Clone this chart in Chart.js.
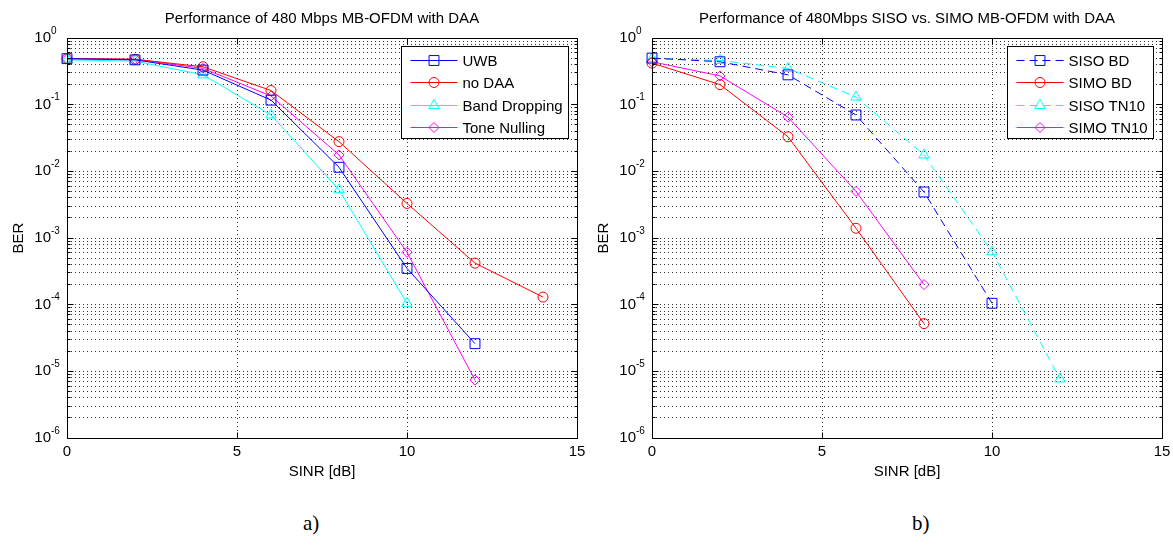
<!DOCTYPE html>
<html>
<head>
<meta charset="utf-8">
<script src="https://cdn.jsdelivr.net/npm/chart.js@4.4.1/dist/chart.umd.min.js"></script>
<style>
  body { margin: 0; background: #fff; width: 1173px; height: 547px; position: relative; overflow: hidden; }
  canvas { position: absolute; top: 0; }
  #chartA { left: 0; }
  #chartB { left: 590px; }
  .cap { position: absolute; top: 511px; font: 21px "Liberation Serif", "Times New Roman", serif; color: #000; }
</style>
</head>
<body>
<canvas id="chartA" width="590" height="500"></canvas>
<canvas id="chartB" width="583" height="500"></canvas>
<div class="cap" style="left:303px">a)</div>
<div class="cap" style="left:912px">b)</div>
<script>
// SINR points (dB) shared by all curves
const sinr = [0, 2, 4, 6, 8, 10, 12, 14];

// a) 480 Mbps MB-OFDM with DAA
const berUwb = [0.49, 0.47, 0.33, 0.117, 0.0115, 3.5e-4, 2.6e-5];
const berNoDaa = [0.49, 0.48, 0.37, 0.163, 0.0279, 0.0033, 4.2e-4, 1.3e-4];
const berBandDrop = [0.47, 0.45, 0.28, 0.07, 0.0053, 1.05e-4];
const berToneNull = [0.49, 0.48, 0.35, 0.135, 0.0176, 6.1e-4, 7.4e-6];

// b) SISO vs. SIMO
const berSisoBd = [0.5, 0.44, 0.28, 0.07, 0.0049, 1.05e-4];
const berSimoBd = [0.42, 0.2, 0.033, 0.0014, 5.2e-5];
const berSisoTn = [0.49, 0.46, 0.35, 0.13, 0.0176, 6.2e-4, 7.7e-6];
const berSimoTn = [0.44, 0.27, 0.065, 0.005, 2.0e-4];

const xTickValues = [0, 5, 10, 15];
const decades = [0, -1, -2, -3, -4, -5, -6];

const FONT = '"Liberation Sans", Arial, sans-serif';
const px = v => Math.floor(v) + 0.5;

function series(label, ys, color, style, radius, dashed) {
  return {
    label,
    data: ys.map((v, i) => ({ x: sinr[i], y: v })),
    borderColor: color,
    borderWidth: 1,
    borderDash: dashed ? [8, 5] : [],
    pointStyle: style,
    pointRadius: radius,
    pointBorderColor: color,
    pointBackgroundColor: 'rgba(0,0,0,0)',
    pointBorderWidth: 1,
    tension: 0,
    clip: false
  };
}

function drawMarker(ctx, d, x, y) {
  ctx.save();
  ctx.setLineDash([]);
  ctx.strokeStyle = d.pointBorderColor;
  ctx.fillStyle = 'rgba(0,0,0,0)';
  ctx.lineWidth = 1;
  Chart.helpers.drawPoint(ctx, { pointStyle: d.pointStyle, radius: d.pointRadius, rotation: 0, borderWidth: 1 }, x, y);
  ctx.restore();
}

// MATLAB-like frame: dotted grid, inward ticks, 10^n labels, boxed legend
const matlabAxes = {
  id: 'matlabAxes',
  beforeDatasetsDraw(chart) {
    const { ctx, chartArea: a, scales: { x, y } } = chart;
    ctx.save();
    ctx.strokeStyle = '#333';
    ctx.lineWidth = 1;
    ctx.setLineDash([1, 3]);
    ctx.beginPath();
    y.ticks.forEach(t => {
      const py = px(y.getPixelForValue(t.value));
      if (py <= a.top + 1 || py >= a.bottom - 1) return;
      ctx.moveTo(a.left, py);
      ctx.lineTo(a.right, py);
    });
    x.ticks.forEach(t => {
      const pxx = px(x.getPixelForValue(t.value));
      if (pxx <= a.left + 1 || pxx >= a.right - 1) return;
      ctx.moveTo(pxx, a.top);
      ctx.lineTo(pxx, a.bottom);
    });
    ctx.stroke();
    ctx.restore();
  },
  afterDatasetsDraw(chart, args, o) {
    const { ctx, chartArea: a, scales: { x, y } } = chart;
    const L = px(a.left), R = px(a.right), T = px(a.top), B = px(a.bottom);
    ctx.save();
    ctx.setLineDash([]);
    ctx.strokeStyle = '#000';
    ctx.lineWidth = 1;
    ctx.beginPath();
    ctx.rect(L, T, R - L, B - T);
    y.ticks.forEach(t => {
      const py = px(y.getPixelForValue(t.value));
      const len = t.major ? 6 : 3;
      ctx.moveTo(L, py); ctx.lineTo(L + len, py);
      ctx.moveTo(R, py); ctx.lineTo(R - len, py);
    });
    x.ticks.forEach(t => {
      const pxx = px(x.getPixelForValue(t.value));
      ctx.moveTo(pxx, B); ctx.lineTo(pxx, B - 6);
      ctx.moveTo(pxx, T); ctx.lineTo(pxx, T + 6);
    });
    ctx.stroke();

    // tick labels
    ctx.fillStyle = '#000';
    ctx.textBaseline = 'middle';
    y.ticks.filter(t => t.major).forEach(t => {
      const py = y.getPixelForValue(t.value);
      ctx.font = '15px ' + FONT;
      ctx.textAlign = 'right';
      ctx.fillText('10', a.left - 16, py);
      ctx.font = '10px ' + FONT;
      ctx.textAlign = 'left';
      ctx.fillText(String(Math.round(Math.log10(t.value))), a.left - 16, py - 7);
    });
    ctx.font = '15px ' + FONT;
    ctx.textAlign = 'center';
    x.ticks.forEach(t => ctx.fillText(String(t.value), x.getPixelForValue(t.value), a.bottom + 14));

    // titles
    const cx = (a.left + a.right) / 2;
    ctx.fillText(o.title, cx, 19);
    ctx.fillText(o.xTitle, cx, a.bottom + 34);
    ctx.save();
    ctx.translate(a.left - 48, (a.top + a.bottom) / 2);
    ctx.rotate(-Math.PI / 2);
    ctx.fillText(o.yTitle, 0, 0);
    ctx.restore();

    // legend
    const items = chart.data.datasets;
    ctx.font = '15px ' + FONT;
    const tw = Math.max(...items.map(d => ctx.measureText(d.label).width));
    const bw = Math.round(61 + tw + 6), bh = 92;
    const bx = px(a.right - 9 - bw), by = px(a.top + 8);
    ctx.fillStyle = '#fff';
    ctx.fillRect(bx, by, bw, bh);
    ctx.strokeStyle = '#000';
    ctx.strokeRect(bx, by, bw, bh);
    items.forEach((d, i) => {
      const ry = px(by + 14 + i * 22.3);
      ctx.strokeStyle = d.borderColor;
      ctx.setLineDash(d.borderDash || []);
      ctx.beginPath();
      ctx.moveTo(bx + 9, ry);
      ctx.lineTo(bx + 56, ry);
      ctx.stroke();
      drawMarker(ctx, d, bx + 32.5, ry);
      ctx.setLineDash([]);
      ctx.fillStyle = '#000';
      ctx.textAlign = 'left';
      ctx.fillText(d.label, bx + 61, ry + 1);
    });
    ctx.restore();
  }
};

function makeChart(id, datasets, axisWidth, padRight, labels) {
  return new Chart(document.getElementById(id), {
    type: 'line',
    data: { datasets },
    plugins: [matlabAxes],
    options: {
      responsive: false,
      animation: false,
      events: [],
      layout: { padding: { top: 38, right: padRight, left: 0, bottom: 0 } },
      plugins: {
        legend: { display: false },
        tooltip: { enabled: false },
        matlabAxes: labels
      },
      scales: {
        x: {
          type: 'linear',
          min: 0,
          max: 15,
          afterBuildTicks: s => { s.ticks = xTickValues.map(v => ({ value: v })); },
          ticks: { display: false },
          grid: { display: false },
          border: { display: false },
          afterFit: s => { s.height = 62; }
        },
        y: {
          type: 'logarithmic',
          min: 1e-6,
          max: 1,
          afterBuildTicks: s => {
            const t = [];
            decades.forEach(e => {
              for (let k = 1; k <= 9; k++) {
                const v = k * Math.pow(10, e);
                if (v <= 1) t.push({ value: v, major: k === 1 });
              }
            });
            s.ticks = t;
          },
          ticks: { display: false },
          grid: { display: false },
          border: { display: false },
          afterFit: s => { s.width = axisWidth; }
        }
      }
    }
  });
}

makeChart('chartA', [
  series('UWB', berUwb, '#0000ff', 'rect', 7, false),
  series('no DAA', berNoDaa, '#ff0000', 'circle', 5, false),
  series('Band Dropping', berBandDrop, '#00ffff', 'triangle', 6, false),
  series('Tone Nulling', berToneNull, '#ff00ff', 'rectRot', 5, false)
], 67, 13, { title: 'Performance of 480 Mbps MB-OFDM with DAA', xTitle: 'SINR [dB]', yTitle: 'BER' });

makeChart('chartB', [
  series('SISO BD', berSisoBd, '#0000ff', 'rect', 7, true),
  series('SIMO BD', berSimoBd, '#ff0000', 'circle', 5, false),
  series('SISO TN10', berSisoTn, '#00ffff', 'triangle', 6, true),
  series('SIMO TN10', berSimoTn, '#ff00ff', 'rectRot', 5, false)
], 62, 11, { title: 'Performance of 480Mbps SISO vs. SIMO MB-OFDM with DAA', xTitle: 'SINR [dB]', yTitle: 'BER' });
</script>
</body>
</html>
